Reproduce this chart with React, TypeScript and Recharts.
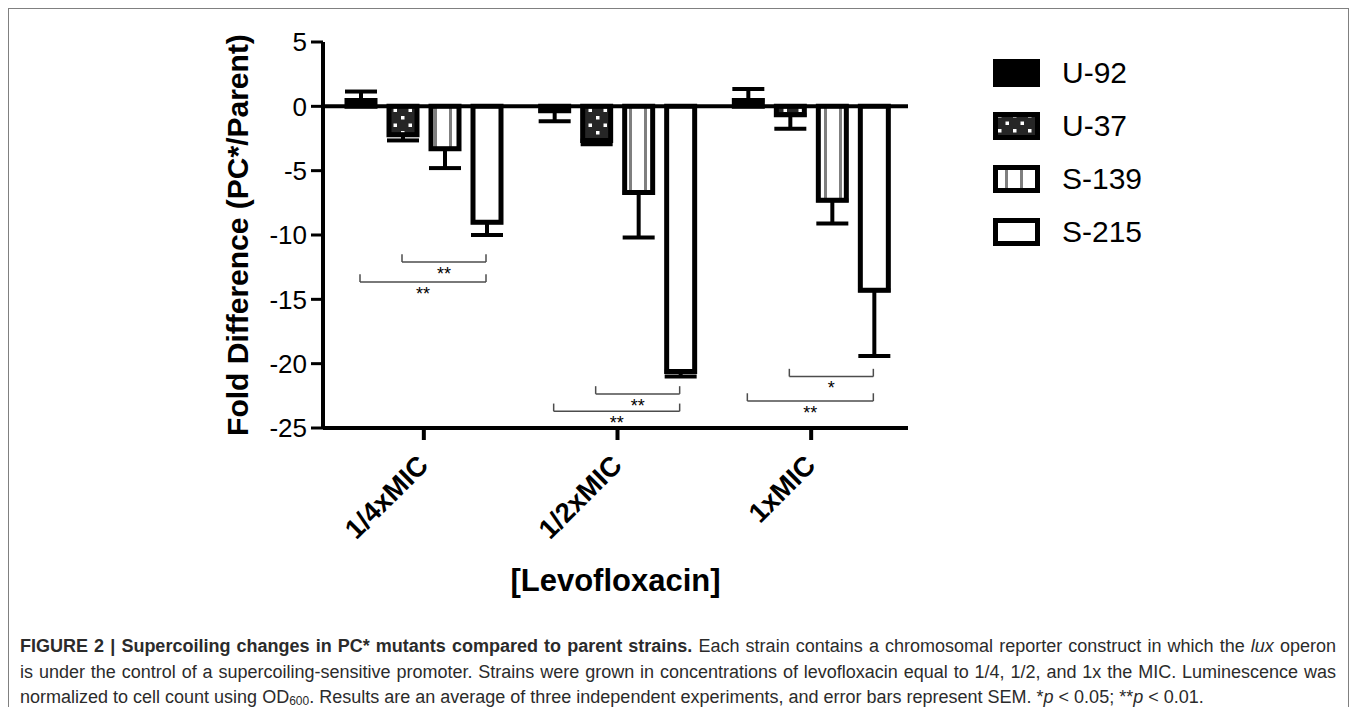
import React from "react";
import {
  BarChart,
  Bar,
  XAxis,
  YAxis,
  ErrorBar,
  ReferenceLine,
  Legend,
} from "recharts";

// -------------------------
// DATA
// -------------------------
const CONCENTRATIONS = ["1/4xMIC", "1/2xMIC", "1xMIC"];

const U92 = [0.45, -0.35, 0.45];
const U37 = [-2.2, -2.65, -0.65];
const S139 = [-3.3, -6.7, -7.3];
const S215 = [-9.0, -20.6, -14.3];

// SEM (one-sided, drawn away from zero)
const U92_SEM = [0.7, 0.8, 0.9];
const U37_SEM = [0.45, 0.3, 1.1];
const S139_SEM = [1.5, 3.5, 1.8];
const S215_SEM = [1.0, 0.4, 5.1];

const Y_TICKS = [5, 0, -5, -10, -15, -20, -25];

// significance brackets: group, from bar, to bar, level, text
const BRACKET_GROUP = [0, 0, 1, 1, 2, 2];
const BRACKET_FROM = [1, 0, 1, 0, 1, 0];
const BRACKET_TO = [3, 3, 3, 3, 3, 3];
const BRACKET_LEVEL = [-12.1, -13.65, -22.35, -23.7, -21.0, -22.9];
const BRACKET_TEXT = ["**", "**", "**", "**", "*", "**"];

const SERIES = [
  { key: "u92", name: "U-92", values: U92, sem: U92_SEM, fill: "#000" },
  { key: "u37", name: "U-37", values: U37, sem: U37_SEM, fill: "url(#dots)" },
  { key: "s139", name: "S-139", values: S139, sem: S139_SEM, fill: "url(#vlines)" },
  { key: "s215", name: "S-215", values: S215, sem: S215_SEM, fill: "#fff" },
];

const rows = CONCENTRATIONS.map((name, i) => {
  const r: any = { name };
  SERIES.forEach((s) => {
    const v = s.values[i];
    r[s.key] = v;
    r[s.key + "Err"] = v >= 0 ? [0, s.sem[i]] : [s.sem[i], 0];
  });
  return r;
});

// -------------------------
// LAYOUT
// -------------------------
const FONT = "'Liberation Sans', Arial, Helvetica, sans-serif";
const CHART_W = 1339;
const CHART_H = 589;
const AXIS_W = 314;
const RIGHT = 440;
const PLOT_W = CHART_W - AXIS_W - RIGHT;
const PAD = 4;
const BAR = 28;
const GAP = 14;
const BAND = (PLOT_W - PAD) / 3;
const GROUP_OFFSET = Math.floor((BAND - (4 * BAR + 3 * GAP)) / 2);
const TICK = 0.6;

// hidden position axis: spans the row-index extent 0..n-1 across the plot
const POS_MAX = CONCENTRATIONS.length - 1;
const barPos = (group: number, slot: number) =>
  ((PAD + group * BAND + GROUP_OFFSET + slot * (BAR + GAP) + BAR / 2) / PLOT_W) * POS_MAX;

const XTick = (props: any) => {
  const { x, y, payload } = props;
  return (
    <g transform={`translate(${x + 6},${y + 25})`}>
      <text
        textAnchor="end"
        transform="rotate(-45)"
        fontSize={27.5}
        fontWeight="bold"
        fontFamily={FONT}
        fill="#000"
      >
        {payload.value}
      </text>
    </g>
  );
};

const YTitle = (props: any) => {
  const vb = props.viewBox;
  const cx = vb.x + vb.width - 86;
  const cy = vb.y + vb.height / 2;
  return (
    <text
      x={cx}
      y={cy}
      transform={`rotate(-90, ${cx}, ${cy})`}
      textAnchor="middle"
      dominantBaseline="central"
      fontSize={30}
      fontWeight="bold"
      fontFamily={FONT}
      fill="#000"
    >
      Fold Difference (PC*/Parent)
    </text>
  );
};

const XTitle = (props: any) => {
  const vb = props.viewBox;
  return (
    <text
      x={vb.x + vb.width / 2}
      y={vb.y + 163}
      textAnchor="middle"
      fontSize={31}
      fontWeight="bold"
      fontFamily={FONT}
      fill="#000"
    >
      [Levofloxacin]
    </text>
  );
};

const Swatch = ({ k }: { k: string }) => {
  const fill =
    k === "u92" ? "#000" : k === "u37" ? "url(#lg-dots)" : k === "s139" ? "url(#lg-lines)" : "#fff";
  return (
    <svg width={47} height={28} style={{ display: "block" }}>
      <defs>
        <pattern id="lg-dots" patternUnits="userSpaceOnUse" width={15} height={15} x={3} y={0}>
          <rect width={15} height={15} fill="#262626" />
          <rect x={2} y={2} width={3.5} height={3.5} fill="#fff" />
          <rect x={9.5} y={9.5} width={3.5} height={3.5} fill="#fff" />
        </pattern>
        <pattern id="lg-lines" patternUnits="userSpaceOnUse" width={15} height={10} x={3} y={0}>
          <rect width={15} height={10} fill="#fff" />
          <rect x={9} width={3} height={10} fill="#7f7f7f" />
        </pattern>
      </defs>
      <rect x={2.5} y={2.5} width={42} height={23} fill={fill} stroke="#000" strokeWidth={5} />
    </svg>
  );
};

const LegendBox = () => (
  <div style={{ fontFamily: FONT, fontSize: 30, color: "#000" }}>
    {SERIES.map((s) => (
      <div key={s.key} style={{ display: "flex", alignItems: "center", height: 53 }}>
        <Swatch k={s.key} />
        <span style={{ marginLeft: 22, lineHeight: "30px" }}>{s.name}</span>
      </div>
    ))}
  </div>
);

export default function App() {
  return (
    <div
      style={{
        position: "relative",
        width: CHART_W,
        height: 720,
        border: "1px solid #808080",
        borderBottom: "none",
        background: "#fff",
      }}
    >
      <BarChart
        width={CHART_W}
        height={CHART_H}
        data={rows}
        margin={{ top: 33, right: RIGHT, bottom: 0, left: 0 }}
        barGap={GAP}
        style={{ fontFamily: FONT }}
      >
        <defs>
          <pattern id="dots" patternUnits="userSpaceOnUse" width={15} height={15}>
            <rect width={15} height={15} fill="#262626" />
            <rect x={2} y={2} width={3.5} height={3.5} fill="#fff" />
            <rect x={9.5} y={9.5} width={3.5} height={3.5} fill="#fff" />
          </pattern>
          <pattern id="vlines" patternUnits="userSpaceOnUse" width={15} height={10}>
            <rect width={15} height={10} fill="#fff" />
            <rect x={5} width={3} height={10} fill="#7f7f7f" />
          </pattern>
        </defs>

        <XAxis
          dataKey="name"
          interval={0}
          padding={{ left: PAD, right: 0 }}
          height={170}
          tickSize={12}
          tick={<XTick />}
          axisLine={{ stroke: "#000", strokeWidth: 4 }}
          tickLine={{ stroke: "#000", strokeWidth: 4 }}
          label={XTitle}
        />
        <XAxis
          xAxisId="pos"
          type="number"
          domain={[0, POS_MAX]}
          allowDataOverflow
          hide
        />
        <YAxis
          domain={[-25, 5]}
          ticks={Y_TICKS}
          interval={0}
          allowDataOverflow
          width={AXIS_W}
          tickSize={12}
          tickMargin={4}
          tick={{ fontSize: 26, fill: "#000", fontFamily: FONT }}
          axisLine={{ stroke: "#000", strokeWidth: 4 }}
          tickLine={{ stroke: "#000", strokeWidth: 3 }}
          label={YTitle}
        />

        {SERIES.map((s) => (
          <Bar
            key={s.key}
            dataKey={s.key}
            name={s.name}
            fill={s.fill}
            stroke="#000"
            strokeWidth={5}
            barSize={BAR}
            isAnimationActive={false}
          >
            <ErrorBar
              dataKey={s.key + "Err"}
              width={16}
              strokeWidth={4}
              stroke="#000"
              isAnimationActive={false}
            />
          </Bar>
        ))}

        <ReferenceLine xAxisId="pos" y={0} stroke="#000" strokeWidth={4} />

        {BRACKET_LEVEL.map((lv, i) => {
          const x1 = barPos(BRACKET_GROUP[i], BRACKET_FROM[i]);
          const x2 = barPos(BRACKET_GROUP[i], BRACKET_TO[i]);
          return (
            <React.Fragment key={i}>
              <ReferenceLine
                xAxisId="pos"
                segment={[{ x: x1, y: lv }, { x: x2, y: lv }]}
                stroke="#4d4d4d"
                strokeWidth={1.5}
                label={{
                  value: BRACKET_TEXT[i],
                  position: "bottom",
                  offset: 5,
                  fontSize: 18,
                  fill: "#000",
                  fontFamily: FONT,
                }}
              />
              <ReferenceLine
                xAxisId="pos"
                segment={[{ x: x1, y: lv }, { x: x1, y: lv + TICK }]}
                stroke="#4d4d4d"
                strokeWidth={1.5}
              />
              <ReferenceLine
                xAxisId="pos"
                segment={[{ x: x2, y: lv }, { x: x2, y: lv + TICK }]}
                stroke="#4d4d4d"
                strokeWidth={1.5}
              />
            </React.Fragment>
          );
        })}

        <Legend
          layout="vertical"
          align="center"
          verticalAlign="middle"
          wrapperStyle={{ left: 984, top: 37, width: 220 }}
          content={LegendBox}
        />
      </BarChart>

      <div
        style={{
          position: "absolute",
          left: 11,
          top: 625,
          width: 1316,
          fontFamily: FONT,
          fontSize: 18,
          lineHeight: "25.5px",
          color: "#2b2b2b",
        }}
      >
        <div style={{ whiteSpace: "nowrap", textAlign: "justify", textAlignLast: "justify" }}>
          <b>FIGURE 2 | Supercoiling changes in PC* mutants compared to parent strains.</b> Each
          strain contains a chromosomal reporter construct in which the <i>lux</i> operon
        </div>
        <div style={{ whiteSpace: "nowrap", textAlign: "justify", textAlignLast: "justify" }}>
          is under the control of a supercoiling-sensitive promoter. Strains were grown in
          concentrations of levofloxacin equal to 1/4, 1/2, and 1x the MIC. Luminescence was
        </div>
        <div style={{ whiteSpace: "nowrap" }}>
          normalized to cell count using OD
          <sub style={{ fontSize: 12, verticalAlign: "-0.15em", lineHeight: 0 }}>600</sub>. Results
          are an average of three independent experiments, and error bars represent SEM. *
          <i>p</i> &lt; 0.05; **<i>p</i> &lt; 0.01.
        </div>
      </div>
    </div>
  );
}
